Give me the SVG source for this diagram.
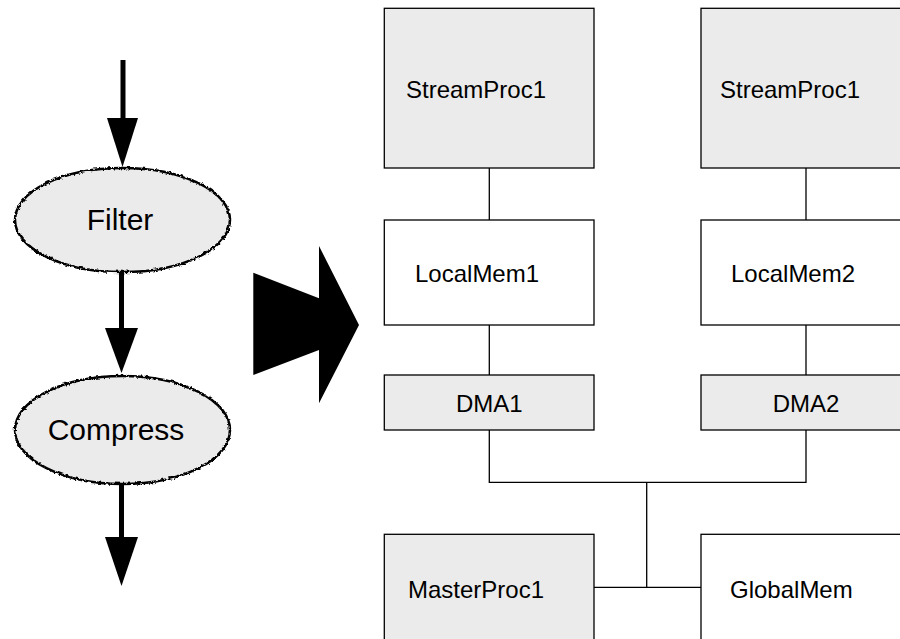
<svg xmlns="http://www.w3.org/2000/svg" width="900" height="639" viewBox="0 0 900 639">
<style>
text{font-family:"Liberation Sans",Arial,sans-serif;fill:#000}
.box{stroke:#000;stroke-width:1.3}
.g{fill:#ebebeb}
.w{fill:#fff}
.lbl{font-size:24px}
.big{font-size:30px}
.wire{fill:none;stroke:#000;stroke-width:1.3}
.flow{fill:none;stroke:#000;stroke-width:5}
.ell{fill:#ebebeb;stroke:#000;stroke-width:2.5}
</style>
<defs>
<filter id="wavy" x="-5%" y="-10%" width="110%" height="120%">
<feTurbulence type="turbulence" baseFrequency="0.2" numOctaves="1" seed="3" result="t"/>
<feDisplacementMap in="SourceGraphic" in2="t" scale="3" xChannelSelector="R" yChannelSelector="G"/>
</filter>
</defs>
<rect width="900" height="639" fill="#fff"/>
<g id="connectors">
<line class="flow" x1="123" y1="60" x2="123" y2="122"/>
<polygon points="107,118 138,118 122.5,167"/>
<line class="flow" x1="121.5" y1="271" x2="121.5" y2="332"/>
<polygon points="105,328 138,328 121.5,373"/>
<line class="flow" x1="121.5" y1="483" x2="121.5" y2="541"/>
<polygon points="105,537 138,537 121.5,586"/>
<polyline class="wire" points="489.3,168 489.3,220"/>
<polyline class="wire" points="806,168 806,220"/>
<polyline class="wire" points="489.3,325 489.3,375"/>
<polyline class="wire" points="806,325 806,375"/>
<polyline class="wire" points="489.3,430 489.3,482.3 806,482.3 806,430"/>
<polyline class="wire" points="646.7,482.3 646.7,587.3"/>
<polyline class="wire" points="594,587.3 701,587.3"/>
</g>
<g id="bigarrow">
<polygon points="253.3,272.7 319,298.3 319,246 359,325 319,403.3 319,350 253.3,375"/>
</g>
<g id="filter">
<ellipse class="ell" cx="121.5" cy="219" rx="107.5" ry="52" filter="url(#wavy)"/>
<text class="big" x="120" y="230" text-anchor="middle">Filter</text>
</g>
<g id="compress">
<ellipse class="ell" cx="121.5" cy="429" rx="107.5" ry="54" filter="url(#wavy)"/>
<text class="big" x="116" y="440" text-anchor="middle">Compress</text>
</g>
<g id="streamproc1a">
<rect class="box g" x="384.3" y="8.3" width="209.7" height="159.7"/>
<text class="lbl" x="406" y="98">StreamProc1</text>
</g>
<g id="streamproc1b">
<rect class="box g" x="701" y="8.3" width="210" height="159.7"/>
<text class="lbl" x="720" y="98">StreamProc1</text>
</g>
<g id="localmem1">
<rect class="box w" x="384.3" y="220" width="209.7" height="105"/>
<text class="lbl" x="415" y="282">LocalMem1</text>
</g>
<g id="localmem2">
<rect class="box w" x="701" y="220" width="210" height="105"/>
<text class="lbl" x="731" y="282">LocalMem2</text>
</g>
<g id="dma1">
<rect class="box g" x="384.3" y="375" width="209.7" height="55"/>
<text class="lbl" x="489.3" y="411.7" text-anchor="middle">DMA1</text>
</g>
<g id="dma2">
<rect class="box g" x="701" y="375" width="210" height="55"/>
<text class="lbl" x="806" y="411.7" text-anchor="middle">DMA2</text>
</g>
<g id="masterproc1">
<rect class="box g" x="384.3" y="534.3" width="209.7" height="120"/>
<text class="lbl" x="408" y="598">MasterProc1</text>
</g>
<g id="globalmem">
<rect class="box w" x="701" y="534.3" width="210" height="120"/>
<text class="lbl" x="730" y="598">GlobalMem</text>
</g>
</svg>
